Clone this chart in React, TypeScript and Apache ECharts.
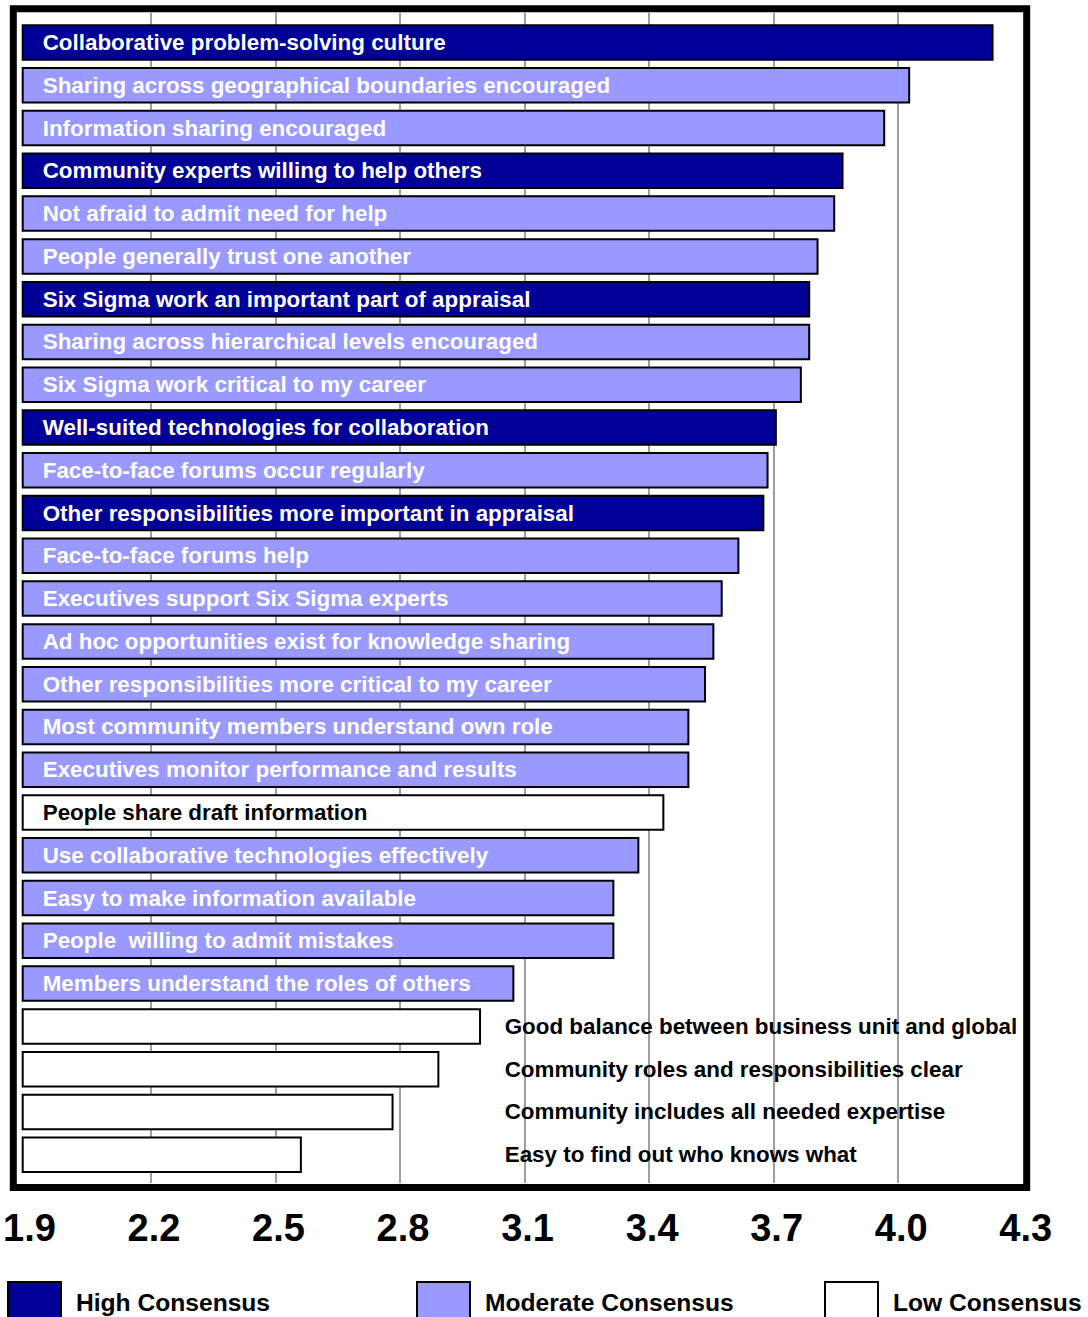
import React, { useEffect, useRef } from "react";
import * as echarts from "echarts";

const categories = [
  "Collaborative problem-solving culture",
  "Sharing across geographical boundaries encouraged",
  "Information sharing encouraged",
  "Community experts willing to help others",
  "Not afraid to admit need for help",
  "People generally trust one another",
  "Six Sigma work an important part of appraisal",
  "Sharing across hierarchical levels encouraged",
  "Six Sigma work critical to my career",
  "Well-suited technologies for collaboration",
  "Face-to-face forums occur regularly",
  "Other responsibilities more important in appraisal",
  "Face-to-face forums help",
  "Executives support Six Sigma experts",
  "Ad hoc opportunities exist for knowledge sharing",
  "Other responsibilities more critical to my career",
  "Most community members understand own role",
  "Executives monitor performance and results",
  "People share draft information",
  "Use collaborative technologies effectively",
  "Easy to make information available",
  "People  willing to admit mistakes",
  "Members understand the roles of others",
  "Good balance between business unit and global",
  "Community roles and responsibilities clear",
  "Community includes all needed expertise",
  "Easy to find out who knows what",
];

const values = [
  4.23, 4.03, 3.97, 3.87, 3.85, 3.81, 3.79, 3.79, 3.77, 3.71, 3.69, 3.68, 3.62,
  3.58, 3.56, 3.54, 3.5, 3.5, 3.44, 3.38, 3.32, 3.32, 3.08, 3.0, 2.9, 2.79, 2.57,
];

const levels = [
  "High", "Moderate", "Moderate", "High", "Moderate", "Moderate", "High",
  "Moderate", "Moderate", "High", "Moderate", "High", "Moderate", "Moderate",
  "Moderate", "Moderate", "Moderate", "Moderate", "Low", "Moderate", "Moderate",
  "Moderate", "Moderate", "Low", "Low", "Low", "Low",
];

const levelNames = ["High", "Moderate", "Low"];
const seriesNames = ["High Consensus", "Moderate Consensus", "Low Consensus"];
const tickLabels = ["1.9", "2.2", "2.5", "2.8", "3.1", "3.4", "3.7", "4.0", "4.3"];

const AXIS_MIN = 1.9;
const AXIS_MAX = 4.3;
const AXIS_STEP = 0.3;

export default function App() {
  const ref = useRef<HTMLDivElement>(null);

  useEffect(() => {
    document.body.style.margin = "0";
    if (!ref.current) return;
    const chart = echarts.init(ref.current, null, { renderer: "svg" });
    const fontFamily = "'Liberation Sans', Arial, Helvetica, sans-serif";
    const colors: Record<string, string> = {
      High: "#000099",
      Moderate: "#9999FF",
      Low: "#FFFFFF",
    };
    const textColors: Record<string, string> = {
      High: "#FFFFFF",
      Moderate: "#FFFFFF",
      Low: "#000000",
    };

    const series = levelNames.map((lvl, k) => ({
      name: seriesNames[k],
      type: "bar",
      xAxisIndex: 0,
      yAxisIndex: 0,
      barWidth: 36.5,
      barGap: "-100%",
      itemStyle: {
        color: colors[lvl],
        borderColor: "#000000",
        borderWidth: 2,
      },
      label: {
        show: true,
        position: "insideLeft",
        distance: 21,
        formatter: (p: any) => categories[p.dataIndex],
        color: textColors[lvl],
        fontSize: 22.4,
        fontWeight: "bold",
        fontFamily,
      },
      data: values.map((v, i) => {
        if (levels[i] !== lvl) return null;
        if (lvl === "Low" && v < 3.1) {
          return {
            value: v,
            label: {
              position: [483, "50%"],
              align: "left",
              verticalAlign: "middle",
            },
          };
        }
        return v;
      }),
    }));

    const legendBase = (name: string, left: number) => ({
      data: [name],
      left,
      top: 1281,
      padding: 0,
      itemWidth: 53,
      itemHeight: 40,
      icon: "rect",
      itemStyle: { borderColor: "#000000", borderWidth: 2 },
      textStyle: {
        fontSize: 24.6,
        fontWeight: "bold",
        color: "#000000",
        fontFamily,
        padding: [0, 0, 4, 10],
      },
    });

    chart.setOption({
      animation: false,
      backgroundColor: "#FFFFFF",
      textStyle: { fontFamily },
      grid: [
        { left: 22.7, right: 65.3, top: 21.1, bottom: 140.9, containLabel: false },
        { left: 22.7, right: 65.3, top: 12.7, bottom: 134, containLabel: false },
      ],
      xAxis: [
        {
          type: "value",
          gridIndex: 0,
          min: AXIS_MIN,
          max: AXIS_MAX,
          interval: AXIS_STEP,
          show: false,
          splitLine: { show: false },
        },
        {
          type: "value",
          gridIndex: 1,
          min: AXIS_MIN,
          max: AXIS_MAX,
          interval: AXIS_STEP,
          axisLine: { show: false },
          axisTick: { show: false },
          axisLabel: {
            show: true,
            fontSize: 38,
            fontWeight: "bold",
            color: "#000000",
            fontFamily,
            margin: 26,
            padding: [0, 0, 0, 6],
            formatter: (v: number) => {
              const idx = Math.round((v - AXIS_MIN) / AXIS_STEP);
              return tickLabels[idx] ?? "";
            },
          },
          splitLine: {
            show: true,
            showMinLine: false,
            showMaxLine: false,
            lineStyle: { color: "#7f7f7f", width: 1.5 },
          },
        },
      ],
      yAxis: [
        {
          type: "category",
          gridIndex: 0,
          data: categories,
          inverse: true,
          show: false,
        },
        {
          type: "value",
          gridIndex: 1,
          show: false,
          splitLine: { show: false },
        },
      ],
      legend: [
        legendBase(seriesNames[0], 7),
        legendBase(seriesNames[1], 416),
        legendBase(seriesNames[2], 824),
      ],
      graphic: [
        {
          type: "rect",
          z: 100,
          shape: { x: 13.3, y: 8.8, width: 1013.4, height: 1178.7 },
          style: { fill: "none", stroke: "#000000", lineWidth: 7 },
          silent: true,
        },
      ],
      series,
    });

    return () => {
      chart.dispose();
    };
  }, []);

  return <div ref={ref} style={{ width: 1088, height: 1317 }} />;
}
